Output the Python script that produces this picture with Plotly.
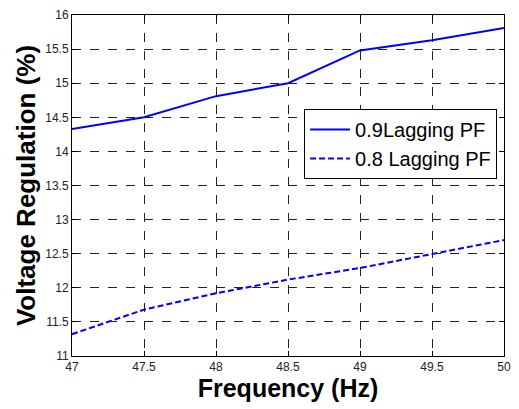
import plotly.graph_objects as go

# Frequency sweep and measured voltage regulation for two power factors
frequency_hz = [47, 47.5, 48, 48.5, 49, 49.5, 50]
vr_pf09 = [14.33, 14.50, 14.81, 15.00, 15.48, 15.63, 15.81]
vr_pf08 = [11.32, 11.68, 11.92, 12.12, 12.29, 12.50, 12.70]
series_names = ["0.9Lagging PF", "0.8 Lagging PF"]

x_ticks = [47, 47.5, 48, 48.5, 49, 49.5, 50]
y_ticks = [11, 11.5, 12, 12.5, 13, 13.5, 14, 14.5, 15, 15.5, 16]

fig = go.Figure()
fig.add_trace(go.Scatter(x=frequency_hz, y=vr_pf09, mode="lines", name=series_names[0],
                         line=dict(color="#0000ff", width=2, dash="solid")))
fig.add_trace(go.Scatter(x=frequency_hz, y=vr_pf08, mode="lines", name=series_names[1],
                         line=dict(color="#0000ff", width=2, dash="6px,3px")))

axis_common = dict(
    showline=True, linecolor="black", linewidth=1, mirror="ticks",
    ticks="inside", ticklen=5, tickcolor="black",
    showgrid=True, gridcolor="#222222", gridwidth=1, griddash="dash",
    zeroline=False,
    tickfont=dict(family="Arial, Liberation Sans", size=12, color="#222222"),
)

fig.update_xaxes(range=[47, 50], tickvals=x_ticks, ticktext=[f"{v:g}" for v in x_ticks],
                 title=dict(text="<b>Frequency (Hz)</b>", standoff=4,
                            font=dict(family="Arial, Liberation Sans", size=25, color="black")),
                 **axis_common)
fig.update_yaxes(range=[11, 16], tickvals=y_ticks, ticktext=[f"{v:g}" for v in y_ticks],
                 title=dict(text="<b>Voltage Regulation (%)</b>", standoff=2,
                            font=dict(family="Arial, Liberation Sans", size=26, color="black")),
                 **axis_common)

fig.update_layout(
    width=519, height=409,
    margin=dict(l=72, r=8, t=12, b=53),
    plot_bgcolor="white", paper_bgcolor="white",
    legend=dict(x=0.984, y=0.724, xanchor="right", yanchor="top",
                bordercolor="black", borderwidth=1, bgcolor="white",
                font=dict(family="Arial, Liberation Sans", size=20, color="black"),
                tracegroupgap=0, itemwidth=40),
)

fig.write_html("out.html")
